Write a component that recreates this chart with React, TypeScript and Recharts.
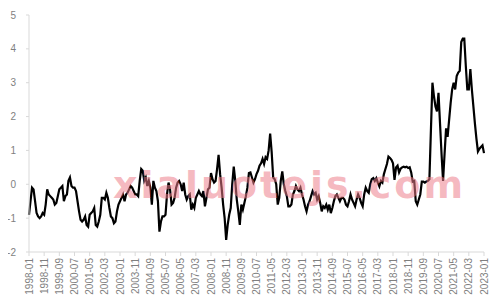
import React from "react";
import { LineChart, Line, XAxis, YAxis } from "recharts";

const startYear = 1998;
const endYear = 2023;

const yTicks = [-2, -1, 0, 1, 2, 3, 4, 5];

const values1998to2005 = [
  -0.9, -0.5, -0.1, -0.15, -0.5, -0.85, -0.95, -1.0, -0.95, -0.85, -0.9, -0.6,
  -0.15, -0.3, -0.35, -0.4, -0.45, -0.6, -0.55, -0.35, -0.15, -0.1, -0.05, -0.5,
  -0.35, -0.3, 0.1, 0.2, -0.05, -0.1, -0.1, -0.2, -0.5, -0.8, -1.05, -1.1,
  -1.05, -0.95, -1.2, -1.25, -0.9, -0.85, -0.8, -0.7, -1.2, -1.25, -1.1, -0.9,
  -0.4, -0.4, -0.45, -0.25, -0.4, -0.7, -0.95, -1.0, -1.15, -1.1, -0.8, -0.6,
  -0.5, -0.4, -0.3, -0.5, -0.3, -0.25, -0.15, -0.05, -0.1, -0.2, -0.3, -0.3,
  -0.35, 0.1, 0.45, 0.4, 0.1, 0.2, -0.05, 0.1, -0.1, -0.6, 0.1, -0.1,
  -0.2, -0.5, -1.4, -1.1, -0.95, -0.95, -0.9, -0.3, 0.05, -0.15, -0.6, -0.55,
];

const values2006to2013 = [
  -0.4, -0.1, 0.05, 0.1, 0.0, -0.2, 0.05, -0.3, -0.45, -0.35, -0.3, -0.75,
  -0.6, -0.7, -0.4, -0.3, -0.2, -0.3, -0.35, -0.2, -0.65, -0.4, -0.15, -0.1,
  0.33, 0.15, 0.05, 0.1, 0.45, 0.87, 0.3, -0.1, -0.6, -1.0, -1.64, -1.2,
  -0.9, -0.7, 0.0, 0.52, 0.1, -0.45, -0.8, -1.2, -0.6, -0.75, -0.55, -0.35,
  -0.1, 0.33, 0.35, 0.2, 0.05, 0.15, 0.3, 0.4, 0.55, 0.62, 0.75, 0.6,
  0.8, 0.75, 1.0, 1.5, 0.95, 0.2, 0.15, 0.0, -0.6, -0.4, 0.1, 0.38,
  0.0, -0.2, -0.35, -0.65, -0.65, -0.6, -0.3, -0.2, -0.05, -0.15, -0.2, -0.1,
  -0.3, -0.45, -0.65, -0.8, -0.6, -0.5, -0.35, -0.2, -0.3, -0.25, -0.45, -0.35,
];

const values2014to2023 = [
  -0.55, -0.8, -0.65, -0.7, -0.6, -0.75, -0.6, -0.85, -0.7, -0.5, -0.35, -0.3,
  -0.4, -0.5, -0.4, -0.4, -0.45, -0.6, -0.65, -0.5, -0.3, -0.45, -0.55, -0.65,
  -0.45, -0.3, -0.4, -0.55, -0.65, -0.3, -0.1, -0.2, -0.25, 0.0, 0.15, 0.18,
  0.1, 0.18, 0.05, -0.06, 0.1, 0.05, 0.3, 0.45, 0.6, 0.82, 0.78, 0.72,
  0.62, 0.13, 0.5, 0.55, 0.35, 0.46, 0.5, 0.52, 0.5, 0.52, 0.48, 0.5,
  0.35, 0.08, 0.1, -0.5, -0.6, -0.45, -0.3, 0.08, 0.08, 0.05, 0.08, 0.1,
  0.15, 1.6, 3.0, 2.6, 2.3, 2.15, 2.7, 1.8, 0.9, 0.1, 0.9, 1.65,
  1.4, 1.9, 2.4, 2.8, 3.0, 2.8, 3.2, 3.3, 3.35, 4.2, 4.3, 4.3,
  3.5, 2.8, 2.8, 3.4, 2.8, 2.3, 1.8, 1.35, 0.97, 1.05, 1.1, 1.15,
  0.92,
];

const seriesValues = [...values1998to2005, ...values2006to2013, ...values2014to2023];

const months: string[] = [];
for (let y = startYear; y <= endYear; y++) {
  for (let m = 1; m <= 12; m++) {
    if (y === endYear && m > 1) break;
    months.push(`${y}-${String(m).padStart(2, "0")}`);
  }
}

const data = months.map((d, i) => ({ date: d, value: seriesValues[i] }));

const axisColor = "#d9d9d9";
const labelColor = "#7f7f7f";
const font = "'Liberation Sans', Arial, sans-serif";

const XTick = (props: any) => {
  const { x, y, payload } = props;
  return (
    <text
      x={x}
      y={y}
      transform={`rotate(-90 ${x} ${y})`}
      textAnchor="end"
      dy="0.35em"
      fontSize={10}
      fill={labelColor}
      fontFamily={font}
    >
      {payload.value}
    </text>
  );
};

export default function App() {
  return (
    <div style={{ position: "relative", width: 500, height: 300 }}>
      <LineChart
        width={500}
        height={300}
        data={data}
        margin={{ top: 7, right: 24, bottom: 0, left: 5 }}
      >
        <XAxis
          dataKey="date"
          interval={9}
          height={56}
          tick={<XTick />}
          tickSize={4}
          tickMargin={2}
          stroke={axisColor}
          tickLine={{ stroke: axisColor }}
        />
        <YAxis
          domain={[-2, 5]}
          ticks={yTicks}
          width={16}
          tickSize={3}
          tickMargin={10}
          stroke={axisColor}
          tick={{ fill: labelColor, fontSize: 10, fontFamily: font }}
          tickLine={{ stroke: axisColor }}
          interval={0}
        />
        <Line
          type="linear"
          dataKey="value"
          stroke="#000000"
          strokeWidth={2.2}
          dot={false}
          isAnimationActive={false}
        />
      </LineChart>
      <svg
        width={500}
        height={300}
        style={{ position: "absolute", left: 0, top: 0, pointerEvents: "none" }}
      >
        <text
          x={105}
          y={190}
          textLength={350}
          lengthAdjust="spacing"
          fontSize={38}
          fontWeight="bold"
          fontFamily="'DejaVu Sans', sans-serif"
          fill="#ee7d8a"
          fillOpacity={0.55}
        >
          xialuotejs.com
        </text>
      </svg>
    </div>
  );
}
